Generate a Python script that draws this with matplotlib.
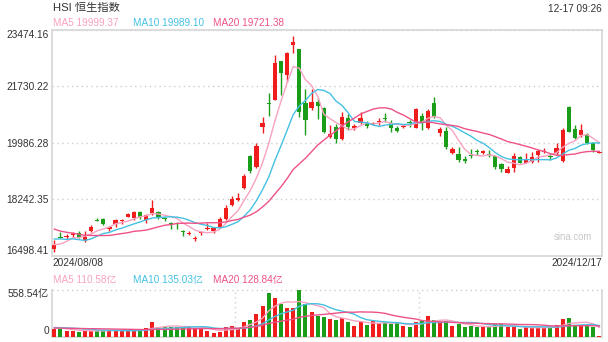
import numpy as np
import pandas as pd
import matplotlib
matplotlib.use('Agg')
import matplotlib.pyplot as plt

plt.rcParams['font.family'] = ['Liberation Sans', 'Noto Sans CJK SC']

# closes / turnover before 2024/08/08, only used to warm up the moving averages
prev_close = [18290, 17810, 17730, 17740, 17780, 17420, 17640, 17470, 17310, 17000,
              17020, 17240, 17000, 17340, 17300, 16950, 16700, 16650, 17030]
prev_vol = [105, 98, 92, 88, 96, 90, 85, 93, 99, 110, 95, 88, 102, 97, 120, 105, 140, 115, 95]

# daily HSI candles 2024/08/08 .. 2024/12/17
opens = [16700, 17070, 17070, 17120, 17200, 16960, 17250, 17580, 17630, 17310,
         17470, 17560, 17690, 17650, 17840, 17590, 17800, 17840, 17640, 17480,
         17480, 17240, 17170, 17010, 17190, 17320, 17250, 17390, 17610, 18060,
         18210, 18570, 19570, 19240, 20470, 21200, 21300, 22500, 22070, 23000,
         22860, 21210, 21040, 21250, 21040, 20150, 20470, 20080, 20730, 20430,
         20580, 20580, 20570, 20620, 20740, 20580, 20440, 20460, 20610, 20440,
         20800, 20420, 21210, 20270, 20350, 19670, 19630, 19490, 19600, 19700,
         19650, 19630, 19570, 19320, 19050, 19190, 19530, 19360, 19390, 19590,
         19710, 19560, 19650, 19410, 21070, 20390, 20220, 20240, 19960, 19660]
highs = [16990, 17230, 17160, 17220, 17240, 17250, 17440, 17670, 17650, 17400,
         17640, 17630, 17820, 17870, 17870, 17780, 18210, 17870, 17690, 17540,
         17540, 17280, 17270, 17100, 17270, 17500, 17380, 17690, 18060, 18330,
         18430, 19000, 19600, 19960, 20760, 21500, 22690, 22500, 22790, 23270,
         22870, 21640, 21630, 21360, 21070, 20530, 20560, 20940, 20860, 20560,
         20940, 20650, 20620, 20730, 20910, 20680, 20490, 20570, 20680, 21040,
         20900, 21010, 21380, 20470, 20470, 19860, 19860, 19570, 19780, 19780,
         19770, 19750, 19600, 19360, 19260, 19660, 19570, 19660, 19690, 19780,
         19810, 19650, 19960, 20420, 21110, 20530, 20560, 20270, 20010, 19680]
lows = [16600, 17050, 17000, 17070, 17040, 16930, 17220, 17560, 17450, 17260,
        17370, 17470, 17680, 17590, 17630, 17490, 17750, 17640, 17570, 17310,
        17320, 17100, 17130, 16950, 17130, 17280, 17190, 17370, 17590, 18030,
        18190, 18540, 19050, 19190, 20290, 20800, 21290, 21450, 21860, 22760,
        20780, 20220, 20990, 20710, 20270, 20130, 19980, 20060, 20370, 20380,
        20560, 20430, 20540, 20530, 20630, 20320, 20310, 20420, 20480, 20420,
        20370, 20390, 20730, 20190, 19780, 19630, 19390, 19340, 19510, 19600,
        19630, 19530, 19160, 19080, 19040, 19090, 19340, 19340, 19350, 19390,
        19650, 19450, 19600, 19390, 20310, 20080, 20170, 19940, 19700, 19650]
closes = [16830, 17060, 17090, 17180, 17080, 17080, 17390, 17570, 17470, 17370,
          17590, 17580, 17780, 17830, 17680, 17740, 17950, 17700, 17630, 17470,
          17470, 17230, 17190, 17030, 17210, 17340, 17350, 17610, 17950, 18230,
          18280, 18960, 19110, 19880, 20600, 21190, 22450, 22140, 22760, 23100,
          20940, 20680, 21250, 21110, 20320, 20250, 20080, 20760, 20470, 20490,
          20730, 20500, 20590, 20640, 20730, 20420, 20350, 20490, 20600, 21010,
          20600, 20970, 20780, 20390, 19860, 19790, 19440, 19410, 19590, 19690,
          19720, 19620, 19240, 19160, 19160, 19570, 19360, 19480, 19530, 19730,
          19730, 19550, 19820, 20370, 20320, 20130, 20370, 19980, 19750, 19670]
# turnover, 亿
volume = [86, 93, 69, 69, 57, 69, 69, 69, 69, 77,
          77, 69, 69, 69, 77, 101, 168, 117, 117, 117,
          109, 129, 117, 97, 97, 69, 45, 57, 117, 129,
          97, 176, 196, 264, 362, 520, 454, 382, 342, 342,
          558.54, 386, 295, 244, 228, 208, 196, 216, 176, 129,
          176, 137, 184, 157, 164, 149, 157, 125, 117, 168,
          188, 244, 196, 168, 184, 129, 149, 117, 125, 109,
          109, 117, 149, 149, 109, 109, 86, 109, 109, 109,
          109, 97, 137, 208, 224, 137, 137, 137, 117, 5]

price_ticks = [16498.41, 18242.35, 19986.28, 21730.22, 23474.16]
ma_labels = ['MA5 19999.37', 'MA10 19989.10', 'MA20 19721.38']
vol_labels = ['MA5 110.58亿', 'MA10 135.03亿', 'MA20 128.84亿']

RED = '#f01d1d'
GREEN = '#1a9e1a'
MA_COLORS = ['#f8a2c2', '#44c1e2', '#ee5288']
GRID = '#cfcfcf'
FRAME = '#d9d9d9'
TXT = '#333333'

W, H = 608, 342
fig = plt.figure(figsize=(W / 100, H / 100), dpi=100)


def box(l, t, r, b):
    return [l / W, 1 - b / H, (r - l) / W, (b - t) / H]


def fx(px):
    return px / W


def fy(py):
    return 1 - py / H


ax = fig.add_axes(box(52, 29.5, 602, 255.5))
axv = fig.add_axes(box(52, 289.5, 602, 336.5))

x = np.arange(len(closes))
o, h, l, c = (np.array(a, dtype=float) for a in (opens, highs, lows, closes))
col = np.where(c >= o, RED, GREEN)

# candles
ax.vlines(x, l, h, colors=col, linewidth=1, zorder=3)
body = np.maximum(np.abs(c - o), 28)
ax.bar(x, body, bottom=(o + c) / 2 - body / 2, width=0.68, color=col, linewidth=0, zorder=3)

# moving averages
s = pd.Series(prev_close + closes)
sv = pd.Series(prev_vol + volume)
n0 = len(prev_close)
for k, cl in zip([5, 10, 20], MA_COLORS):
    ax.plot(x, s.rolling(k).mean().to_numpy()[n0:], color=cl, lw=1.0, zorder=4)
    axv.plot(x, sv.rolling(k).mean().to_numpy()[n0:], color=cl, lw=1.0, zorder=4)

ax.set_xlim(-0.38, 89.42)
ax.set_ylim(price_ticks[0], price_ticks[-1])
ax.set_yticks(price_ticks)
ax.set_yticklabels([f'{v:.2f}' for v in price_ticks])
ax.set_xticks([])
ax.tick_params(axis='y', length=0, pad=2.7, labelsize=7.3, labelcolor=TXT)
labs = ax.get_yticklabels()
labs[0].set_verticalalignment('bottom')
labs[-1].set_verticalalignment('top')
ax.grid(axis='y', color=GRID, linestyle=(0, (1, 2.5)), lw=1)
for sp in ax.spines.values():
    sp.set_color(FRAME)
    sp.set_linewidth(1.3)

# volume
axv.bar(x, volume, width=0.66, color=col, linewidth=0, zorder=3)
axv.set_xlim(-0.38, 89.42)
axv.set_ylim(0, 558.54)
axv.set_yticks([0, 558.54])
axv.set_yticklabels(['0', '558.54亿'])
axv.set_xticks([])
axv.tick_params(axis='y', length=0, pad=2.2, labelsize=7.3, labelcolor=TXT)
vl = axv.get_yticklabels()
vl[0].set_verticalalignment('bottom')
vl[1].set_verticalalignment('top')
axv.spines['top'].set_visible(False)
for side in ['left', 'right', 'bottom']:
    axv.spines[side].set_color(FRAME)
    axv.spines[side].set_linewidth(1.3)
axv.plot([0, 1], [1, 1], transform=axv.transAxes, color=GRID, ls=(0, (1, 2.5)), lw=1, clip_on=False)
for f in (1 / 3, 2 / 3):
    axv.plot([f, f], [0, 1], transform=axv.transAxes, color=GRID, ls=(0, (1, 2.5)), lw=1, zorder=1)

# texts
fig.text(fx(52.7), fy(7.5), 'HSI 恒生指数', fontsize=8.1, color=TXT, va='center', ha='left')
fig.text(fx(602), fy(9), '12-17 09:26', fontsize=7.2, color=TXT, va='center', ha='right')
for xp, t, cl in zip([52.7, 133.3, 213.3], ma_labels, MA_COLORS):
    fig.text(fx(xp), fy(23), t, fontsize=7.2, color=cl, va='center', ha='left')
for xp, t, cl in zip([52.7, 133.3, 213.3], vol_labels, MA_COLORS):
    fig.text(fx(xp), fy(280), t, fontsize=7.2, color=cl, va='center', ha='left')
fig.text(fx(52.7), fy(263.5), '2024/08/08', fontsize=7.3, color=TXT, va='center', ha='left')
fig.text(fx(602), fy(263.5), '2024/12/17', fontsize=7.3, color=TXT, va='center', ha='right')
fig.text(fx(572.5), fy(236.7), 'sina.com', fontsize=6.9, color='#c8c8c8', va='center', ha='center')

fig.savefig('out.png', dpi=100, facecolor='white')
